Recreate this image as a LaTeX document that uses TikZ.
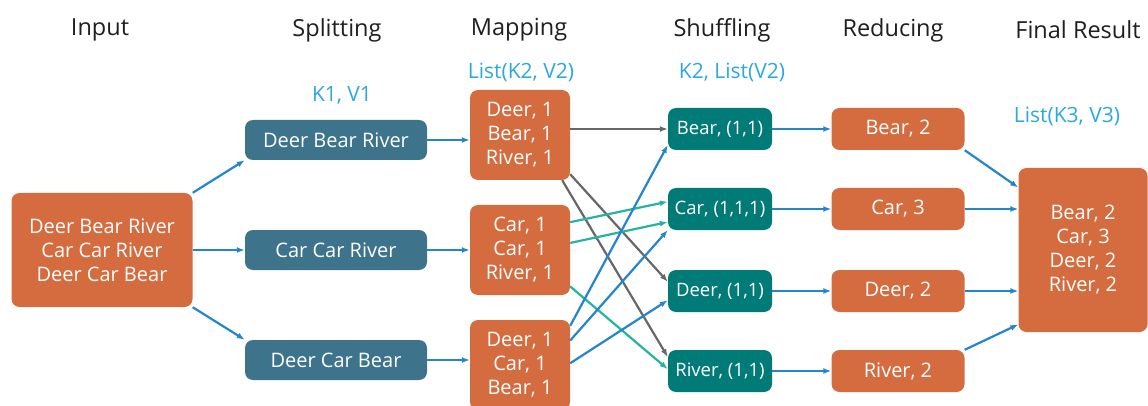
\documentclass[tikz,border=0pt]{standalone}
\usepackage{fontspec}
\setmainfont{Open Sans}
\usepackage{xcolor}
\usetikzlibrary{arrows.meta, positioning}
\definecolor{boxorange}{HTML}{D46C40}
\definecolor{splitblue}{HTML}{3D748B}
\definecolor{shuffleteal}{HTML}{007B78}
\definecolor{arrowblue}{HTML}{2386CC}
\definecolor{arrowteal}{HTML}{23B4A2}
\definecolor{arrowgray}{HTML}{676767}
\definecolor{labelblue}{HTML}{2BA8E0}

\tikzset{
  box/.style={rounded corners=8pt, text=white, align=center, inner sep=0pt,
    font=\fontsize{20}{24}\selectfont},
  inputbox/.style={box, fill=boxorange, minimum width=181pt, minimum height=114pt},
  splitbox/.style={box, fill=splitblue, minimum width=182pt, minimum height=40pt},
  mapbox/.style={box, fill=boxorange, minimum width=100pt, minimum height=90pt},
  shufflebox/.style={box, fill=shuffleteal, minimum width=104pt, minimum height=42pt,
    font=\fontsize{18.5}{22}\selectfont},
  reducebox/.style={box, fill=boxorange, minimum width=133pt, minimum height=42pt},
  resultbox/.style={box, fill=boxorange, minimum width=129pt, minimum height=164pt},
  heading/.style={font=\fontsize{23.5}{28}\selectfont, text=black!88},
  kvlabel/.style={font=\fontsize{21}{25}\selectfont, text=labelblue},
  flow/.style={-{Latex[length=8pt,width=6pt]}, line width=2.2pt, draw=arrowblue},
  flowgray/.style={flow, draw=arrowgray},
  flowteal/.style={flow, draw=arrowteal}
}

\begin{document}
\begin{tikzpicture}[x=1pt, y=-1pt]
\useasboundingbox (0,0) rectangle (1148,406);

\node[heading] (hinput) at (100,30) {Input};
\node[heading] (hsplit) at (337,30) {Splitting};
\node[heading] (hmap) at (519,30) {Mapping};
\node[heading] (hshuffle) at (722,30) {Shuffling};
\node[heading] (hreduce) at (893,30) {Reducing};
\node[heading] (hresult) at (1078,30) {Final Result};

\node[kvlabel] (kv1) at (342,95) {K1, V1};
\node[kvlabel] (kv2) at (521,72) {List(K2, V2)};
\node[kvlabel] (kv3) at (732,72) {K2, List(V2)};
\node[kvlabel] (kv4) at (1067,116) {List(K3, V3)};

\node[inputbox] (inp) at (102,250) {Deer Bear River\\Car Car River\\Deer Car Bear};

\node[splitbox] (spl1) at (336,140) {Deer Bear River};
\node[splitbox] (spl2) at (336,250) {Car Car River};
\node[splitbox] (spl3) at (336,360) {Deer Car Bear};

\node[mapbox] (map1) at (520,135) {Deer, 1\\Bear, 1\\River, 1};
\node[mapbox] (map2) at (520,250) {Car, 1\\Car, 1\\River, 1};
\node[mapbox] (map3) at (520,365) {Deer, 1\\Car, 1\\Bear, 1};

\node[shufflebox] (shf1) at (720,129) {Bear, (1,1)};
\node[shufflebox] (shf2) at (720,209) {Car, (1,1,1)};
\node[shufflebox] (shf3) at (720,291) {Deer, (1,1)};
\node[shufflebox] (shf4) at (720,371) {River, (1,1)};

\node[reducebox] (red1) at (898,129) {Bear, 2};
\node[reducebox] (red2) at (898,209) {Car, 3};
\node[reducebox] (red3) at (898,291) {Deer, 2};
\node[reducebox] (red4) at (898,371) {River, 2};

\node[resultbox] (fin) at (1083,250) {Bear, 2\\Car, 3\\Deer, 2\\River, 2};

\draw[flow] (inp.north east) -- (spl1.south west);
\draw[flow] (inp.east) -- (spl2.west);
\draw[flow] (inp.south east) -- (spl3.north west);

\draw[flow] (spl1.east) -- (map1.west |- spl1.east);
\draw[flow] (spl2.east) -- (map2.west);
\draw[flow] (spl3.east) -- (map3.west |- spl3.east);

\draw[flowgray] (map1.east |- shf1.west) -- (shf1.west);
\draw[flowgray] (map1.-38) -- (shf3.170);
\draw[flowgray] (map1.-47) -- (shf4.165);

\draw[flowteal] (map2.29) -- (shf2.172);
\draw[flowteal] (map2.8) -- (shf2.-166);
\draw[flowteal] (map2.-36) -- (shf4.178);

\draw[flow] (map3.38) -- (shf1.-163);
\draw[flow] (map3.26) -- (shf2.-158);
\draw[flow] (map3.2) -- (shf3.-170);

\draw[flow] (shf1.east) -- (red1.west);
\draw[flow] (shf2.east) -- (red2.west);
\draw[flow] (shf3.east) -- (red3.west);
\draw[flow] (shf4.east) -- (red4.west);

\draw[flow] (red1.south east) -- (fin.136);
\draw[flow] (red2.east) -- (red2.east -| fin.west);
\draw[flow] (red3.east) -- (red3.east -| fin.west);
\draw[flow] (red4.north east) -- (fin.-131);
\end{tikzpicture}
\end{document}
